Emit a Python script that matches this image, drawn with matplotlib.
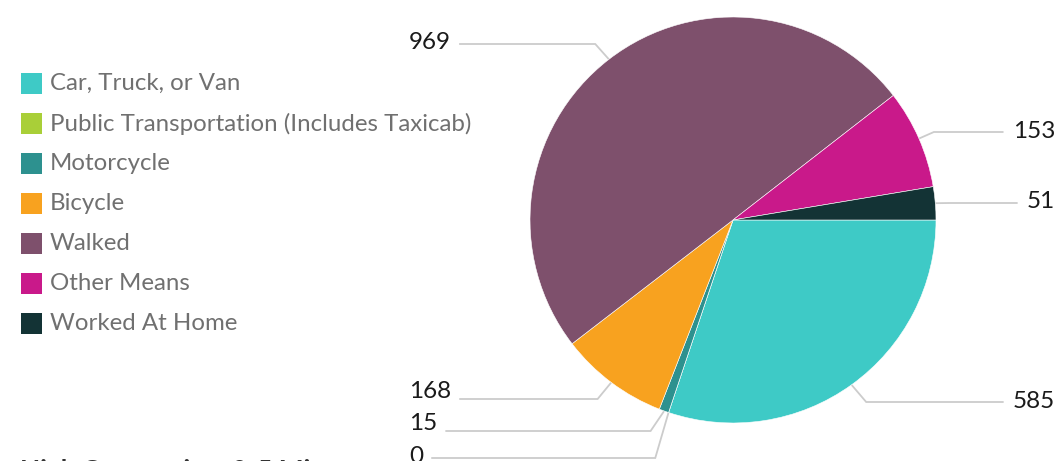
import numpy as np
import matplotlib
matplotlib.use("Agg")
import matplotlib.pyplot as plt
from matplotlib.patches import Rectangle

plt.rcParams['font.family'] = ['Lato', 'DejaVu Sans']

categories = ['Car, Truck, or Van', 'Public Transportation (Includes Taxicab)',
              'Motorcycle', 'Bicycle', 'Walked', 'Other Means', 'Worked At Home']
values = [585, 0, 15, 168, 969, 153, 51]
colors = ['#3ECAC6', '#A9CF38', '#2D918F', '#F8A21F', '#7E506C', '#C9198A', '#133335']

# label placement (pixel rows, from top): text centre and connector row
label_side = ['right', 'left', 'left', 'left', 'left', 'right', 'right']
text_y = [402, 456, 424, 391, 43, 131, 202]
line_y = [402, 458, 431, 399, 44, 132, 203]

W, H = 1056, 461
fig = plt.figure(figsize=(W / 100, H / 100), dpi=100)
ax = fig.add_axes([0, 0, 1, 1])


def py(y):
    return H - y


cx, cy, r = 733, 220, 203
wedges, _ = ax.pie(values, colors=colors, startangle=0, counterclock=False,
                   center=(cx, py(cy)), radius=r, frame=True,
                   wedgeprops=dict(edgecolor='white', linewidth=0.4))
ax.set_xlim(0, W)
ax.set_ylim(0, H)
ax.set_aspect('equal')
ax.axis('off')

# legend
for i, (name, c) in enumerate(zip(categories, colors)):
    yy = 83.5 + i * 40
    ax.add_patch(Rectangle((21, py(yy + 10.5)), 21, 21, color=c, lw=0))
    ax.text(50, py(yy), name, fontsize=17.3, color='#707070', va='center', ha='left')

# data labels
texts = []
for v, side, ty in zip(values, label_side, text_y):
    if side == 'left':
        t = ax.text(409, py(ty), str(v), fontsize=17.5, color='#1a1a1a', va='center', ha='left')
    else:
        t = ax.text(1055, py(ty), str(v), fontsize=17.5, color='#1a1a1a', va='center', ha='right')
    texts.append(t)

fig.canvas.draw()
rend = fig.canvas.get_renderer()
inv = ax.transData.inverted()

for w, t, side, ly in zip(wedges, texts, label_side, line_y):
    mid = np.deg2rad((w.theta1 + w.theta2) / 2)
    ex = cx + (r + 1) * np.cos(mid)
    ey = py(cy) + (r + 1) * np.sin(mid)
    bb = t.get_window_extent(rend)
    (x0, _), (x1, _) = inv.transform([[bb.x0, 0], [bb.x1, 0]])
    if side == 'left':
        elbow_x = ex - 13
        end_x = x1 + 9
    else:
        elbow_x = ex + 14
        end_x = x0 - 10
    ax.plot([ex, elbow_x, end_x], [ey, py(ly), py(ly)], color='#cccccc', lw=1.3,
            solid_joinstyle='miter', zorder=0)

# heading of the next section, cut by the bottom edge
ax.text(20, py(478.5), 'High Commuting: 0-5 Minutes', fontsize=19, fontweight='bold',
        color='#333333', va='baseline', ha='left')

fig.savefig('out.png', dpi=100)
